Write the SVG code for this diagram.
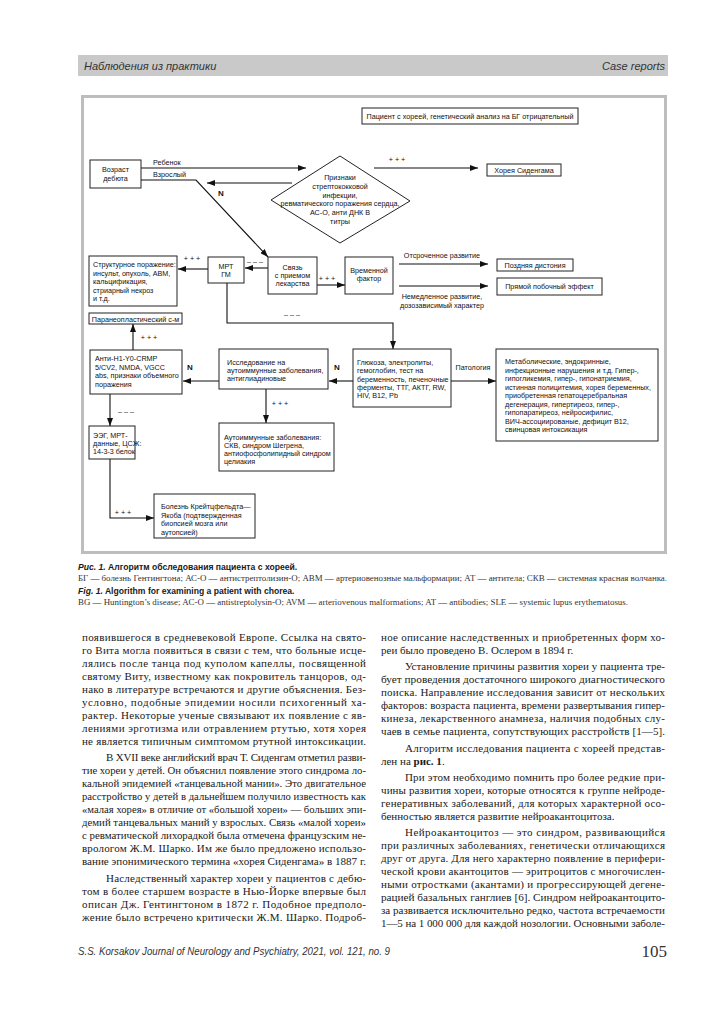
<svg xmlns="http://www.w3.org/2000/svg" width="724" height="1024" viewBox="0 0 724 1024">
<defs>
<marker id="ah" markerWidth="8" markerHeight="6" refX="8" refY="3" orient="auto" markerUnits="userSpaceOnUse"><path d="M0,0 L8,3 L0,6 z" fill="#111"/></marker>
<style>
.bx{fill:#fff;stroke:#222;stroke-width:1}
.ln{fill:none;stroke:#111;stroke-width:1.1}
.t{font-family:"Liberation Sans",Arial,sans-serif;font-size:7.2px;fill:#111}
.c{text-anchor:middle}
.lb{font-family:"Liberation Sans",Arial,sans-serif;font-size:7.2px;fill:#111}
.n{font-family:"Liberation Sans",Arial,sans-serif;font-size:8px;font-weight:bold;fill:#111}
.body{font-family:"Liberation Serif","Times New Roman",serif;font-size:11px;fill:#1a1a1a}
.cap{font-family:"Liberation Sans",Arial,sans-serif;font-size:8.6px;font-weight:bold;fill:#1a1a1a}
.capi{font-style:italic}
.cs{font-family:"Liberation Serif","Times New Roman",serif;font-size:8px;fill:#333}
.hd{font-family:"Liberation Sans",Arial,sans-serif;font-size:11px;font-style:italic;fill:#333}
</style>
</defs>
<rect width="724" height="1024" fill="#fff"/>
<!-- header -->
<g id="header">
<rect x="78" y="55" width="590" height="21" fill="#c9c9c9"/>
<text class="hd" x="84" y="70">Наблюдения из практики</text>
<text class="hd" x="665" y="70" text-anchor="end">Case reports</text>
</g>
<!-- frame -->
<rect x="82.5" y="96.5" width="583" height="456" fill="#fff" stroke="#bdbdbd" stroke-width="3"/>

<g id="connectors">
<line class="ln" x1="141" y1="168" x2="306" y2="168" marker-end="url(#ah)"/>
<polyline class="ln" points="141,180 196,180 268,257" marker-end="url(#ah)"/>
<line class="ln" x1="292" y1="183" x2="207" y2="183" marker-end="url(#ah)"/>
<line class="ln" x1="374" y1="168" x2="478" y2="168" marker-end="url(#ah)"/>
<line class="ln" x1="208" y1="269" x2="178" y2="269" marker-end="url(#ah)"/>
<line class="ln" x1="268" y1="268" x2="245" y2="268" marker-end="url(#ah)"/>
<line class="ln" x1="317" y1="285" x2="345" y2="285" marker-end="url(#ah)"/>
<line class="ln" x1="399" y1="264" x2="488" y2="264" marker-end="url(#ah)"/>
<line class="ln" x1="399" y1="286" x2="488" y2="286" marker-end="url(#ah)"/>
<polyline class="ln" points="227,283 227,323 393,323 393,349" marker-end="url(#ah)"/>
<line class="ln" x1="133" y1="350" x2="133" y2="324" marker-end="url(#ah)"/>
<line class="ln" x1="219" y1="381" x2="183" y2="381" marker-end="url(#ah)"/>
<line class="ln" x1="353" y1="381" x2="329" y2="381" marker-end="url(#ah)"/>
<line class="ln" x1="451" y1="381" x2="496" y2="381" marker-end="url(#ah)"/>
<line class="ln" x1="266" y1="389" x2="266" y2="423" marker-end="url(#ah)"/>
<line class="ln" x1="110" y1="394" x2="110" y2="426" marker-end="url(#ah)"/>
<polyline class="ln" points="110,459 110,518 154,518" marker-end="url(#ah)"/>
<text class="lb" x="153" y="165">Ребенок</text>
<text class="lb" x="153" y="177">Взрослый</text>
<text class="n" x="218" y="196">N</text>
<text class="lb c" x="397" y="162">+ + +</text>
<text class="lb c" x="192" y="261">+ + +</text>
<text class="lb c" x="255" y="264">– – –</text>
<text class="lb c" x="327" y="281">+ + +</text>
<text class="lb c" x="442" y="258">Отсроченное развитие</text>
<text class="lb c" x="442" y="299">Немедленное развитие,</text>
<text class="lb c" x="442" y="308">дозозависимый характер</text>
<text class="lb c" x="292" y="317">– – –</text>
<text class="lb c" x="149" y="340">+ + +</text>
<text class="n" x="187" y="370">N</text>
<text class="n" x="334" y="370">N</text>
<text class="lb c" x="473" y="370">Патология</text>
<text class="lb c" x="280" y="406">+ + +</text>
<text class="lb c" x="126" y="414">– – –</text>
<text class="lb c" x="123" y="515">+ + +</text>
</g>

<g id="start">
<rect class="bx" x="362" y="108" width="216" height="16"/>
<text class="t c" x="470" y="119">Пациент с хореей, генетический анализ на БГ отрицательный</text>
</g>
<g id="age">
<rect class="bx" x="90" y="160" width="51" height="28"/>
<text class="t c" x="115.5" y="172">Возраст</text>
<text class="t c" x="115.5" y="181">дебюта</text>
</g>
<g id="strep">
<polygon class="bx" points="271,200 340,156 410,201 340,243"/>
<text class="t c" x="340" y="180">Признаки</text>
<text class="t c" x="340" y="188.8">стрептококковой</text>
<text class="t c" x="340" y="197.6">инфекции,</text>
<text class="t c" x="340" y="206.4">ревматического поражения сердца,</text>
<text class="t c" x="340" y="215.2">АС-О, анти ДНК В</text>
<text class="t c" x="340" y="224">титры</text>
</g>
<g id="sydenham">
<rect class="bx" x="487" y="164" width="74" height="12"/>
<text class="t c" x="524" y="173">Хорея Сиденгама</text>
</g>
<g id="structural">
<rect class="bx" x="89" y="256" width="88" height="50"/>
<text class="t" x="93" y="267">Структурное поражение:</text>
<text class="t" x="93" y="275.5">инсульт, опухоль, АВМ,</text>
<text class="t" x="93" y="284">кальцификация,</text>
<text class="t" x="93" y="292.5">стриарный некроз</text>
<text class="t" x="93" y="301">и т.д.</text>
</g>
<g id="mri">
<rect class="bx" x="208" y="257" width="36" height="26"/>
<text class="t c" x="226" y="269">МРТ</text>
<text class="t c" x="226" y="277">ГМ</text>
</g>
<g id="drug">
<rect class="bx" x="268" y="257" width="49" height="37"/>
<text class="t c" x="292.5" y="270">Связь</text>
<text class="t c" x="292.5" y="278">с приемом</text>
<text class="t c" x="292.5" y="286">лекарства</text>
</g>
<g id="time">
<rect class="bx" x="345" y="257" width="48" height="37"/>
<text class="t c" x="369" y="273">Временной</text>
<text class="t c" x="369" y="281">фактор</text>
</g>
<g id="tardive">
<rect class="bx" x="497" y="259" width="76" height="12"/>
<text class="t c" x="535" y="268">Поздняя дистония</text>
</g>
<g id="sideeffect">
<rect class="bx" x="497" y="278" width="105" height="17"/>
<text class="t c" x="549.5" y="289">Прямой побочный эффект</text>
</g>
<g id="paraneo">
<rect class="bx" x="89" y="313" width="93" height="11"/>
<text class="t c" x="135.5" y="321.5">Паранеопластический с-м</text>
</g>
<g id="anti">
<rect class="bx" x="90" y="350" width="92" height="44"/>
<text class="t" x="95" y="361">Анти-Н1-Y0-CRMP</text>
<text class="t" x="95" y="369.5">5/CV2, NMDA, VGCC</text>
<text class="t" x="95" y="378">abs,  признаки объемного</text>
<text class="t" x="95" y="386.5">поражения</text>
</g>
<g id="autoimmune-test">
<rect class="bx" x="219" y="349" width="109" height="40"/>
<text class="t" x="227" y="365">Исследование на</text>
<text class="t" x="227" y="373">аутоиммунные заболевания,</text>
<text class="t" x="227" y="381">антиглиадиновые</text>
</g>
<g id="glucose">
<rect class="bx" x="353" y="349" width="98" height="58"/>
<text class="t" x="357" y="365">Глюкоза, электролиты,</text>
<text class="t" x="357" y="373">гемоглобин, тест на</text>
<text class="t" x="357" y="381.5">беременность, печеночные</text>
<text class="t" x="357" y="390">ферменты, ТТГ, АКТГ, RW,</text>
<text class="t" x="357" y="398">HIV, B12, Pb</text>
</g>
<g id="metabolic">
<rect class="bx" x="496" y="349" width="162" height="92"/>
<text class="t" x="505" y="364">Метаболические, эндокринные,</text>
<text class="t" x="505" y="372.5">инфекционные нарушения и т.д. Гипер-,</text>
<text class="t" x="505" y="381">гипогликемия, гипер-, гипонатриемия,</text>
<text class="t" x="505" y="389.5">истинная полицитемия, хорея беременных,</text>
<text class="t" x="505" y="398">приобретенная гепатоцеребральная</text>
<text class="t" x="505" y="406.5">дегенерация, гипертиреоз, гипер-,</text>
<text class="t" x="505" y="415">гипопаратиреоз, нейросифилис,</text>
<text class="t" x="505" y="423.5">ВИЧ-ассоциированые, дефицит В12,</text>
<text class="t" x="505" y="432">свинцовая интоксикация</text>
</g>
<g id="autoimmune">
<rect class="bx" x="219" y="423" width="115" height="48"/>
<text class="t" x="224" y="440">Аутоиммунные заболевания:</text>
<text class="t" x="224" y="448">СКВ, синдром Шегрена,</text>
<text class="t" x="224" y="456">антиофосфолипидный синдром</text>
<text class="t" x="224" y="464">целиакия</text>
</g>
<g id="eeg">
<rect class="bx" x="89" y="426" width="46" height="33"/>
<text class="t" x="93" y="438">ЭЭГ, МРТ-</text>
<text class="t" x="93" y="446">данные, ЦСЖ:</text>
<text class="t" x="93" y="454">14-3-3 белок</text>
</g>
<g id="cjd">
<rect class="bx" x="154" y="494" width="101" height="44"/>
<text class="t" x="161" y="509">Болезнь Крейтцфельдта—</text>
<text class="t" x="161" y="517.5">Якоба (подтвержденная</text>
<text class="t" x="161" y="526">биопсией мозга или</text>
<text class="t" x="161" y="534.5">аутопсией)</text>
</g>

<g id="caption">
<text class="cap" x="78" y="570"><tspan class="capi">Рис. 1.</tspan> Алгоритм обследования пациента с хореей.</text>
<text class="cs" x="78" y="580.5" textLength="589" lengthAdjust="spacingAndGlyphs">БГ — болезнь Гентингтона; АС-О — антистрептолизин-О; АВМ — артериовенозные мальформации; АТ — антитела; СКВ — системная красная волчанка.</text>
<text class="cap" x="78" y="594"><tspan class="capi">Fig. 1.</tspan> Algorithm for examining a patient with chorea.</text>
<text class="cs" x="78" y="604.5" textLength="550" lengthAdjust="spacingAndGlyphs">BG — Huntington’s disease; AC-O — antistreptolysin-O; AVM — arteriovenous malformations; AT — antibodies; SLE — systemic lupus erythematosus.</text>
</g>

<g id="col-left" class="body">
<text class="body" x="82" y="641" textLength="284">появившегося в средневековой Европе. Ссылка на свято-</text>
<text class="body" x="82" y="654" textLength="284">го Вита могла появиться в связи с тем, что больные исце-</text>
<text class="body" x="82" y="667" textLength="284">лялись после танца под куполом капеллы, посвященной</text>
<text class="body" x="82" y="680" textLength="284">святому Виту, известному как покровитель танцоров, од-</text>
<text class="body" x="82" y="693" textLength="284">нако в литературе встречаются и другие объяснения. Без-</text>
<text class="body" x="82" y="706" textLength="284">условно, подобные эпидемии носили психогенный ха-</text>
<text class="body" x="82" y="719" textLength="284">рактер. Некоторые ученые связывают их появление с яв-</text>
<text class="body" x="82" y="732" textLength="284">лениями эрготизма или отравлением ртутью, хотя хорея</text>
<text class="body" x="82" y="745" textLength="284">не является типичным симптомом ртутной интоксикации.</text>
<text class="body" x="106" y="761.3" textLength="260">В XVII веке английский врач Т. Сиденгам отметил разви-</text>
<text class="body" x="82" y="774.3" textLength="284" lengthAdjust="spacingAndGlyphs">тие хореи у детей. Он объяснил появление этого синдрома ло-</text>
<text class="body" x="82" y="787.3" textLength="284" lengthAdjust="spacingAndGlyphs">кальной эпидемией «танцевальной мании». Это двигательное</text>
<text class="body" x="82" y="800.3" textLength="284" lengthAdjust="spacingAndGlyphs">расстройство у детей в дальнейшем получило известность как</text>
<text class="body" x="82" y="813.3" textLength="284" lengthAdjust="spacingAndGlyphs">«малая хорея» в отличие от «большой хореи» — больших эпи-</text>
<text class="body" x="82" y="826.3" textLength="284" lengthAdjust="spacingAndGlyphs">демий танцевальных маний у взрослых. Связь «малой хореи»</text>
<text class="body" x="82" y="839.3" textLength="284" lengthAdjust="spacingAndGlyphs">с ревматической лихорадкой была отмечена французским не-</text>
<text class="body" x="82" y="852.3" textLength="284">врологом Ж.М. Шарко. Им же было предложено использо-</text>
<text class="body" x="82" y="865.3" textLength="284" lengthAdjust="spacingAndGlyphs">вание эпонимического термина «хорея Сиденгама» в 1887 г.</text>
<text class="body" x="106" y="881.6" textLength="260">Наследственный характер хореи у пациентов с дебю-</text>
<text class="body" x="82" y="894.6" textLength="284">том в более старшем возрасте в Нью-Йорке впервые был</text>
<text class="body" x="82" y="907.6" textLength="284">описан Дж. Гентингтоном в 1872 г. Подобное предполо-</text>
<text class="body" x="82" y="920.6" textLength="284">жение было встречено критически Ж.М. Шарко. Подроб-</text>
</g>

<g id="col-right">
<text class="body" x="381" y="641" textLength="284">ное описание наследственных и приобретенных форм хо-</text>
<text class="body" x="381" y="654">реи было проведено В. Ослером в 1894 г.</text>
<text class="body" x="405" y="670.3" textLength="260">Установление причины развития хореи у пациента тре-</text>
<text class="body" x="381" y="683.3" textLength="284" lengthAdjust="spacingAndGlyphs">бует проведения достаточного широкого диагностического</text>
<text class="body" x="381" y="696.3" textLength="284">поиска. Направление исследования зависит от нескольких</text>
<text class="body" x="381" y="709.3" textLength="284" lengthAdjust="spacingAndGlyphs">факторов: возраста пациента, времени развертывания гипер-</text>
<text class="body" x="381" y="722.3" textLength="284">кинеза, лекарственного анамнеза, наличия подобных слу-</text>
<text class="body" x="381" y="735.3" textLength="284">чаев в семье пациента, сопутствующих расстройств [1—5].</text>
<text class="body" x="405" y="751.6" textLength="260">Алгоритм исследования пациента с хореей представ-</text>
<text class="body" x="381" y="764.6">лен на <tspan font-weight="bold">рис. 1</tspan>.</text>
<text class="body" x="405" y="780.9" textLength="260">При этом необходимо помнить про более редкие при-</text>
<text class="body" x="381" y="793.9" textLength="284">чины развития хореи, которые относятся к группе нейроде-</text>
<text class="body" x="381" y="806.9" textLength="284">генеративных заболеваний, для которых характерной осо-</text>
<text class="body" x="381" y="819.9">бенностью является развитие нейроакантоцитоза.</text>
<text class="body" x="405" y="836.2" textLength="260">Нейроакантоцитоз — это синдром, развивающийся</text>
<text class="body" x="381" y="849.2" textLength="284">при различных заболеваниях, генетически отличающихся</text>
<text class="body" x="381" y="862.2" textLength="284">друг от друга. Для него характерно появление в перифери-</text>
<text class="body" x="381" y="875.2" textLength="284">ческой крови акантоцитов — эритроцитов с многочислен-</text>
<text class="body" x="381" y="888.2" textLength="284">ными отростками (акантами) и прогрессирующей дегене-</text>
<text class="body" x="381" y="901.2" textLength="284" lengthAdjust="spacingAndGlyphs">рацией базальных ганглиев [6]. Синдром нейроакантоцито-</text>
<text class="body" x="381" y="914.2" textLength="284" lengthAdjust="spacingAndGlyphs">за развивается исключительно редко, частота встречаемости</text>
<text class="body" x="381" y="927.2" textLength="284">1—5 на 1 000 000 для каждой нозологии. Основными заболе-</text>
</g>

<g id="footer">
<text class="hd" x="78" y="955" font-size="9.5px" textLength="312" lengthAdjust="spacingAndGlyphs">S.S. Korsakov Journal of Neurology and Psychiatry, 2021, vol. 121, no. 9</text>
<text x="667" y="957" text-anchor="end" font-family="Liberation Serif, serif" font-size="17px" fill="#333">105</text>
</g>
</svg>
